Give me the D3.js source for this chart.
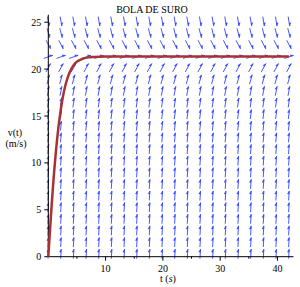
<!DOCTYPE html>
<html><head><meta charset="utf-8">
<script src="https://cdn.jsdelivr.net/npm/d3@7"></script>
<style>
html,body{margin:0;padding:0;background:#fff;}
svg{display:block;}
text{font-family:"Liberation Serif","DejaVu Serif",serif;fill:#000;}
</style></head>
<body>
<svg id="c" width="300" height="287"></svg>
<script>
// ---- data ----
const titleText = "BOLA DE SURO";
const xTicks = [10, 20, 30, 40];
const xMinorTicks = [5, 15, 25, 35];
const yTicks = [0, 5, 10, 15, 20, 25];
// solution curve v(t)
const curveT = [0, 0.25, 0.5, 0.75, 1, 1.25, 1.5, 1.75, 2, 2.5, 3, 3.5, 4, 4.5, 5, 6, 7, 8, 10, 42];
const curveV = [0, 2.4, 4.7, 6.9, 8.9, 10.7, 12.3, 13.7, 14.9, 16.9, 18.3, 19.3, 20.0, 20.5, 20.8, 21.1, 21.25, 21.3, 21.35, 21.35];
// direction field grid
const fieldT = [0, 2.21, 4.42, 6.63, 8.84, 11.05, 13.26, 15.47, 17.68, 19.89, 22.1, 24.31, 26.52, 28.73, 30.94, 33.15, 35.36, 37.57, 39.78, 42.0];
const fieldV = [0.3, 1.54, 2.78, 4.02, 5.26, 6.5, 7.74, 8.98, 10.22, 11.46, 12.7, 13.94, 15.18, 16.42, 17.66, 18.9, 20.14, 21.3, 22.62, 23.86, 25.1];
// slope dv/dt of the arrows in each row
const fieldSlope = [9.8, 9.75, 9.64, 9.45, 9.2, 8.9, 8.5, 8.1, 7.6, 7.0, 6.3, 5.6, 4.8, 4.0, 3.1, 2.1, 1.1, 0.2, -1.2, -2.4, -3.7];

// ---- drawing ----
const svg = d3.select("#c");
const x = d3.scaleLinear().domain([0, 42.8]).range([48.3, 293.5]);
const y = d3.scaleLinear().domain([0, 25.8]).range([256.7, 14.7]);

// direction field
const fieldG = svg.append("g");
const L = 9.5;
const col = "#3344ff";
const pxPerT = x(1) - x(0), pxPerV = y(0) - y(1);
const cells = [];
fieldT.forEach(t => fieldV.forEach((v, j) => cells.push({t, v, s: fieldSlope[j]})));
cells.forEach(c => {
  let dx = pxPerT, dy = -c.s * pxPerV;
  const n = Math.hypot(dx, dy); dx /= n; dy /= n;
  const cx = x(c.t), cy = y(c.v);
  const x0 = cx - dx * L / 2, y0 = cy - dy * L / 2;
  const x1 = cx + dx * L / 2, y1 = cy + dy * L / 2;
  const nx = dy, ny = -dx;
  fieldG.append("line").attr("x1", x0).attr("y1", y0).attr("x2", x1).attr("y2", y1)
    .attr("stroke", col).attr("stroke-width", 0.9);
  const bx = x1 - dx * 3, by = y1 - dy * 3;
  fieldG.append("path")
    .attr("d", `M${x1},${y1}L${bx},${by}L${bx + nx * 1.6},${by + ny * 1.6}Z`)
    .attr("fill", col).attr("stroke", col).attr("stroke-width", 0.4);
});

// axes
const ax = svg.append("g").attr("stroke", "#000").attr("stroke-width", 1);
ax.append("line").attr("x1", x(0)).attr("x2", x(42.8)).attr("y1", y(0)).attr("y2", y(0));
ax.append("line").attr("x1", x(0)).attr("x2", x(0)).attr("y1", y(0)).attr("y2", y(25.8));
xTicks.forEach(t => ax.append("line").attr("x1", x(t)).attr("x2", x(t)).attr("y1", y(0)).attr("y2", y(0) + 4));
xMinorTicks.forEach(t => ax.append("line").attr("x1", x(t)).attr("x2", x(t)).attr("y1", y(0)).attr("y2", y(0) + 2));
yTicks.forEach(v => ax.append("line").attr("x1", x(0) - 4).attr("x2", x(0)).attr("y1", y(v)).attr("y2", y(v)));

svg.append("g").selectAll("text").data(xTicks).join("text")
  .attr("x", d => x(d)).attr("y", y(0) + 15).attr("text-anchor", "middle")
  .attr("font-size", 10).text(d => d);
svg.append("g").selectAll("text").data(yTicks).join("text")
  .attr("x", x(0) - 7).attr("y", d => y(d) + 3.5).attr("text-anchor", "end")
  .attr("font-size", 10).text(d => d);

// solution curve
const pts = curveT.map((t, i) => [t, curveV[i]]);
svg.append("path").datum(pts)
  .attr("d", d3.line().x(d => x(d[0])).y(d => y(d[1])).curve(d3.curveMonotoneX))
  .attr("fill", "none").attr("stroke", "#a83232").attr("stroke-width", 2.5)
  .attr("stroke-linejoin", "round");

// title and axis labels
svg.append("text").attr("x", 152).attr("y", 13).attr("text-anchor", "middle")
  .attr("font-size", 10).text(titleText);
const xl = svg.append("text").attr("x", 168).attr("y", 282).attr("text-anchor", "middle").attr("font-size", 10);
xl.append("tspan").text("t (");
xl.append("tspan").attr("font-style", "italic").text("s");
xl.append("tspan").text(")");
svg.append("text").attr("x", 15).attr("y", 136).attr("text-anchor", "middle").attr("font-size", 10).text("v(t)");
svg.append("text").attr("x", 16).attr("y", 147).attr("text-anchor", "middle").attr("font-size", 10).text("(m/s)");
</script>
</body></html>
